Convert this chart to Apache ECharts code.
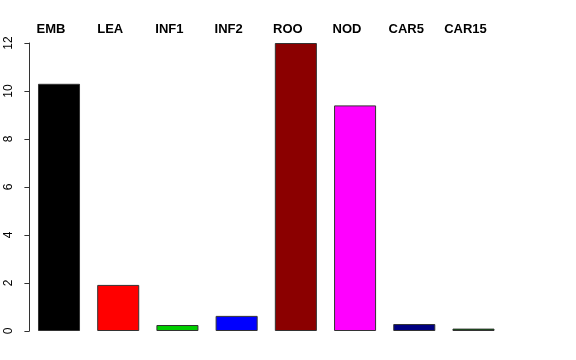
<!DOCTYPE html>
<html>
<head>
<meta charset="utf-8">
<script src="https://cdn.jsdelivr.net/npm/echarts@6/dist/echarts.min.js"></script>
<style>html,body{margin:0;padding:0;background:#fff;}#c{width:576px;height:360px;}</style>
</head>
<body>
<div id="c"></div>
<script>
var categories = ['EMB', 'LEA', 'INF1', 'INF2', 'ROO', 'NOD', 'CAR5', 'CAR15'];
var values = [10.3, 1.92, 0.25, 0.63, 12.0, 9.4, 0.29, 0.1];
var barColors = ['#000000', '#FF0000', '#00CD00', '#0000FF', '#8B0000', '#FF00FF', '#000080', '#006400'];
var yTicks = [0, 2, 4, 6, 8, 10, 12];

var chart = echarts.init(document.getElementById('c'), null, {renderer: 'canvas'});
chart.setOption({
  animation: false,
  backgroundColor: '#ffffff',
  grid: {left: 29.4, right: 72.9, top: 43, bottom: 29, containLabel: false},
  xAxis: {
    type: 'category',
    position: 'top',
    data: categories,
    axisLine: {show: false},
    axisTick: {show: false},
    axisLabel: {
      show: true,
      margin: 7,
      fontFamily: 'Liberation Sans, Arial, sans-serif',
      fontWeight: 'bold',
      fontSize: 13,
      color: '#000',
      padding: [0, 16, 0, 0],
      interval: 0
    }
  },
  yAxis: {
    type: 'value',
    min: yTicks[0],
    max: yTicks[yTicks.length - 1],
    interval: 2,
    splitLine: {show: false},
    axisLine: {show: true, lineStyle: {color: '#333', width: 1}},
    axisTick: {show: true, length: 5, lineStyle: {color: '#333'}},
    axisLabel: {
      rotate: 90,
      margin: 15,
      fontFamily: 'Liberation Sans, Arial, sans-serif',
      fontSize: 12,
      color: '#000'
    }
  },
  series: [{
    type: 'bar',
    data: values.map(function (v, i) {
      return {value: v, itemStyle: {color: barColors[i]}};
    }),
    barCategoryGap: '29%',
    itemStyle: {borderColor: '#333', borderWidth: 1}
  }]
});
</script>
</body>
</html>
